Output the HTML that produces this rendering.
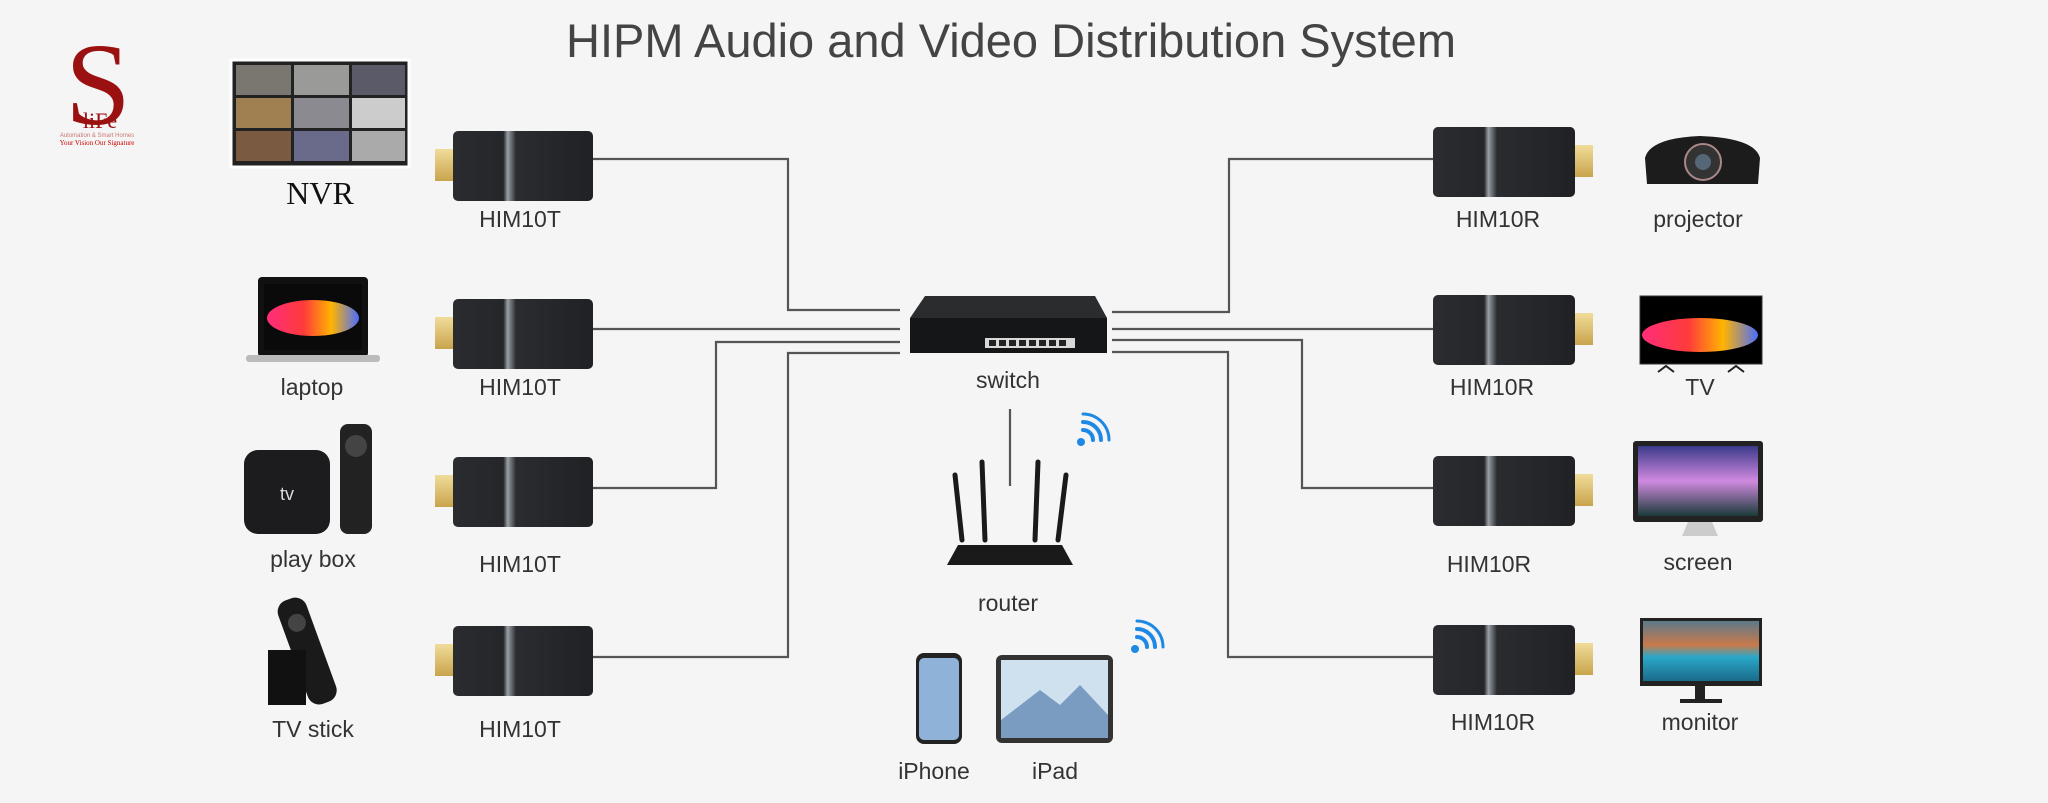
<!DOCTYPE html>
<html><head><meta charset="utf-8"><style>
html,body{margin:0;padding:0;background:#f5f5f5;}
svg{display:block}
text{font-family:"Liberation Sans",sans-serif;fill:#333;}
</style></head><body>
<svg width="2048" height="803" viewBox="0 0 2048 803" xmlns="http://www.w3.org/2000/svg">
<defs>
<linearGradient id="dg" x1="0" x2="1" y1="0" y2="0">
<stop offset="0" stop-color="#2a2c30"/><stop offset="0.36" stop-color="#24262a"/><stop offset="0.39" stop-color="#9aa0a6"/><stop offset="0.45" stop-color="#2a2c30"/><stop offset="1" stop-color="#1f2124"/>
</linearGradient>
<linearGradient id="gold" x1="0" x2="0" y1="0" y2="1"><stop offset="0" stop-color="#f0dc9a"/><stop offset="1" stop-color="#c9a44c"/></linearGradient>
<linearGradient id="col" x1="0" x2="1"><stop offset="0" stop-color="#ff2d7a"/><stop offset="0.4" stop-color="#ff3b3b"/><stop offset="0.7" stop-color="#ffb400"/><stop offset="1" stop-color="#4a6cff"/></linearGradient>
<linearGradient id="scr" x1="0" x2="0" y1="0" y2="1"><stop offset="0" stop-color="#3a3a8a"/><stop offset="0.5" stop-color="#d08ae0"/><stop offset="1" stop-color="#1b3b3a"/></linearGradient>
<linearGradient id="mon" x1="0" x2="0" y1="0" y2="1"><stop offset="0" stop-color="#5b7a8a"/><stop offset="0.4" stop-color="#c97a4a"/><stop offset="0.6" stop-color="#2aa8c8"/><stop offset="1" stop-color="#1a6a8a"/></linearGradient>
<g id="dl"><rect x="0" y="-17" width="20" height="32" fill="url(#gold)"/><rect x="18" y="-35" width="140" height="70" rx="5" fill="url(#dg)"/></g>
<g id="dr"><rect x="140" y="-17" width="20" height="32" fill="url(#gold)"/><rect x="0" y="-35" width="142" height="70" rx="5" fill="url(#dg)"/></g>
</defs>

<!-- title -->
<text x="1011" y="57" font-size="47" text-anchor="middle" style="fill:#444">HIPM Audio and Video Distribution System</text>

<!-- logo -->
<text x="98" y="124" font-size="118" text-anchor="middle" style="font-family:'Liberation Serif',serif;fill:#9b1010">S</text>
<text x="100" y="128" font-size="22" text-anchor="middle" style="font-family:'Liberation Serif',serif;fill:#9b1010">liFe</text>
<text x="97" y="137" font-size="6" text-anchor="middle" style="fill:#c77">Automation &amp; Smart Homes</text>
<text x="97" y="145" font-size="7" text-anchor="middle" style="font-family:'Liberation Serif',serif;fill:#c00">Your Vision Our Signature</text>

<!-- connectors -->
<g stroke="#555" stroke-width="2.2" fill="none">
<polyline points="592,159 788,159 788,310 900,310"/>
<polyline points="592,329 900,329"/>
<polyline points="592,488 716,488 716,342 900,342"/>
<polyline points="592,657 788,657 788,353 900,353"/>
<polyline points="1112,312 1229,312 1229,159 1433,159"/>
<polyline points="1112,329 1433,329"/>
<polyline points="1112,340 1302,340 1302,488 1433,488"/>
<polyline points="1112,352 1228,352 1228,657 1433,657"/>
<line x1="1010" y1="409" x2="1010" y2="486"/>
</g>

<!-- left dongles -->
<use href="#dl" x="435" y="166"/>
<use href="#dl" x="435" y="334"/>
<use href="#dl" x="435" y="492"/>
<use href="#dl" x="435" y="661"/>
<g font-size="23" text-anchor="middle">
<text x="520" y="227">HIM10T</text><text x="520" y="395">HIM10T</text><text x="520" y="572">HIM10T</text><text x="520" y="737">HIM10T</text>
</g>
<!-- right dongles -->
<use href="#dr" x="1433" y="162"/>
<use href="#dr" x="1433" y="330"/>
<use href="#dr" x="1433" y="491"/>
<use href="#dr" x="1433" y="660"/>
<g font-size="23" text-anchor="middle">
<text x="1498" y="227">HIM10R</text><text x="1492" y="395">HIM10R</text><text x="1489" y="572">HIM10R</text><text x="1493" y="730">HIM10R</text>
</g>

<!-- NVR -->
<rect x="231" y="60" width="178" height="107" fill="#222" stroke="#fff" stroke-width="3"/>
<g fill="#7a7670"><rect x="236" y="65" width="55" height="30"/><rect x="294" y="65" width="55" height="30" fill="#9a9a98"/><rect x="352" y="65" width="53" height="30" fill="#5a5a68"/>
<rect x="236" y="98" width="55" height="30" fill="#a08050"/><rect x="294" y="98" width="55" height="30" fill="#8a8a90"/><rect x="352" y="98" width="53" height="30" fill="#ccc"/>
<rect x="236" y="131" width="55" height="30" fill="#7a5a40"/><rect x="294" y="131" width="55" height="30" fill="#6a6a8a"/><rect x="352" y="131" width="53" height="30" fill="#aaa"/></g>
<text x="320" y="204" font-size="32" text-anchor="middle" style="font-family:'Liberation Serif',serif;fill:#111">NVR</text>

<!-- laptop -->
<rect x="258" y="277" width="110" height="80" rx="4" fill="#111"/>
<rect x="264" y="284" width="98" height="66" fill="#0a0a0a"/>
<ellipse cx="313" cy="318" rx="46" ry="18" fill="url(#col)"/>
<rect x="246" y="355" width="134" height="7" rx="3" fill="#bbb"/>
<text x="312" y="395" font-size="23" text-anchor="middle">laptop</text>

<!-- play box -->
<rect x="244" y="450" width="86" height="84" rx="14" fill="#1c1c1e"/>
<text x="287" y="500" font-size="18" text-anchor="middle" style="fill:#ddd">tv</text>
<rect x="340" y="424" width="32" height="110" rx="8" fill="#222"/>
<circle cx="356" cy="446" r="11" fill="#444"/>
<text x="313" y="567" font-size="23" text-anchor="middle">play box</text>

<!-- TV stick -->
<g transform="rotate(-20 310 650)"><rect x="292" y="595" width="30" height="110" rx="12" fill="#1a1a1a"/><circle cx="307" cy="620" r="9" fill="#444"/></g>
<rect x="268" y="650" width="38" height="55" fill="#111"/>
<text x="313" y="737" font-size="23" text-anchor="middle">TV stick</text>

<!-- switch -->
<polygon points="925,296 1095,296 1107,318 910,318" fill="#2a2c2e"/>
<rect x="910" y="318" width="197" height="35" fill="#151617"/>
<rect x="985" y="338" width="90" height="10" fill="#d8d8d8"/>
<g fill="#222"><rect x="989" y="340" width="7" height="6"/><rect x="999" y="340" width="7" height="6"/><rect x="1009" y="340" width="7" height="6"/><rect x="1019" y="340" width="7" height="6"/><rect x="1029" y="340" width="7" height="6"/><rect x="1039" y="340" width="7" height="6"/><rect x="1049" y="340" width="7" height="6"/><rect x="1059" y="340" width="7" height="6"/></g>
<text x="1008" y="388" font-size="23" text-anchor="middle">switch</text>

<!-- router -->
<g stroke="#1a1a1a" stroke-width="5" stroke-linecap="round">
<line x1="962" y1="540" x2="955" y2="475"/><line x1="985" y1="540" x2="982" y2="462"/><line x1="1035" y1="540" x2="1038" y2="462"/><line x1="1058" y1="540" x2="1066" y2="475"/>
</g>
<path d="M958 545 L1062 545 L1073 565 L947 565 Z" fill="#1a1a1a"/>
<text x="1008" y="611" font-size="23" text-anchor="middle">router</text>

<!-- wifi icons -->
<g fill="none" stroke="#1e88e5" stroke-width="4" stroke-linecap="round">
<path d="M1083 430 a10 10 0 0 1 10 10"/><path d="M1083 422 a18 18 0 0 1 18 18"/><path d="M1083 414 a26 26 0 0 1 26 26" stroke-width="3"/>
<path d="M1137 637 a10 10 0 0 1 10 10"/><path d="M1137 629 a18 18 0 0 1 18 18"/><path d="M1137 621 a26 26 0 0 1 26 26" stroke-width="3"/>
</g>
<circle cx="1081" cy="442" r="4" fill="#1e88e5"/><circle cx="1135" cy="649" r="4" fill="#1e88e5"/>

<!-- iPhone / iPad -->
<rect x="916" y="653" width="46" height="91" rx="8" fill="#222"/>
<rect x="919" y="658" width="40" height="82" rx="5" fill="#8fb3d8"/>
<rect x="996" y="655" width="117" height="88" rx="6" fill="#333"/>
<rect x="1001" y="660" width="107" height="78" fill="#cfe0ef"/>
<polygon points="1001,720 1040,690 1060,705 1080,685 1108,715 1108,738 1001,738" fill="#7a9cc0"/>
<text x="934" y="779" font-size="23" text-anchor="middle">iPhone</text>
<text x="1055" y="779" font-size="23" text-anchor="middle">iPad</text>

<!-- projector -->
<path d="M1645 158 Q1650 138 1700 136 Q1755 138 1760 158 L1758 184 L1647 184 Z" fill="#1c1c1c"/>
<circle cx="1703" cy="162" r="18" fill="#333" stroke="#a88" stroke-width="2"/><circle cx="1703" cy="162" r="8" fill="#567"/>
<text x="1698" y="227" font-size="23" text-anchor="middle">projector</text>

<!-- TV -->
<rect x="1640" y="296" width="122" height="68" fill="#000" stroke="#333"/>
<ellipse cx="1700" cy="335" rx="58" ry="17" fill="url(#col)"/>
<path d="M1658 372 l8 -6 8 6 M1728 372 l8 -6 8 6" stroke="#222" stroke-width="2" fill="none"/>
<text x="1700" y="395" font-size="23" text-anchor="middle">TV</text>

<!-- screen -->
<rect x="1633" y="441" width="130" height="81" rx="3" fill="#222"/>
<rect x="1638" y="446" width="120" height="70" fill="url(#scr)"/>
<path d="M1688 522 L1712 522 L1718 536 L1682 536 Z" fill="#ccc"/>
<text x="1698" y="570" font-size="23" text-anchor="middle">screen</text>

<!-- monitor -->
<rect x="1640" y="618" width="122" height="68" fill="#222"/>
<rect x="1643" y="621" width="116" height="60" fill="url(#mon)"/>
<rect x="1695" y="686" width="10" height="14" fill="#222"/><rect x="1680" y="699" width="42" height="4" fill="#222"/>
<text x="1700" y="730" font-size="23" text-anchor="middle">monitor</text>
</svg>
</body></html>
